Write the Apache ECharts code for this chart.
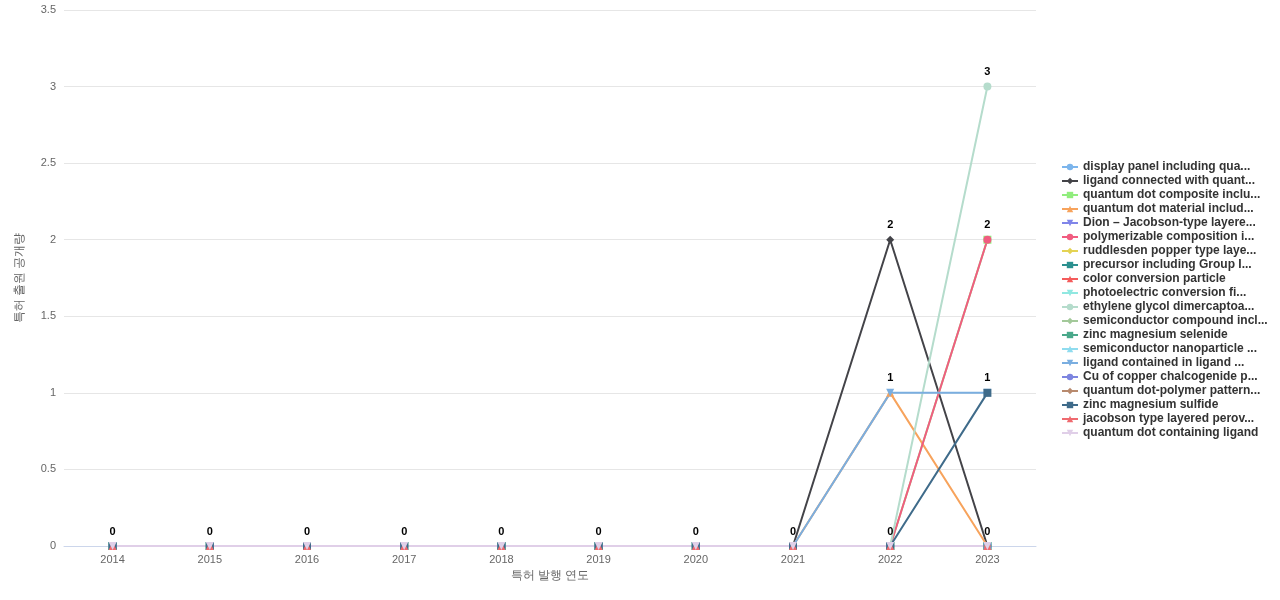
<!DOCTYPE html>
<html><head><meta charset="utf-8"><script src="https://cdn.jsdelivr.net/npm/echarts@6/dist/echarts.min.js"></script></head>
<body style="margin:0"><div id="c" style="width:1280px;height:600px"></div>
<script>
const years=['2014','2015','2016','2017','2018','2019','2020','2021','2022','2023'];
const names=['display panel including qua...','ligand connected with quant...','quantum dot composite inclu...','quantum dot material includ...','Dion – Jacobson-type layere...','polymerizable composition i...','ruddlesden popper type laye...','precursor including Group I...','color conversion particle','photoelectric conversion fi...','ethylene glycol dimercaptoa...','semiconductor compound incl...','zinc magnesium selenide','semiconductor nanoparticle ...','ligand contained in ligand ...','Cu of copper chalcogenide p...','quantum dot-polymer pattern...','zinc magnesium sulfide','jacobson type layered perov...','quantum dot containing ligand'];
const colors=['#7cb5ec','#434348','#90ed7d','#f7a35c','#8085e9','#f15c80','#e4d354','#2b908f','#f45b5b','#91e8e1','#b5dccc','#a3c99a','#4aa88a','#8fdcef','#7aaee0','#7d85e0','#b88a6e','#3f6b8a','#ef6a6f','#e0cfe8'];
const symbols=['circle','diamond','rect','triangle','path://M0,0L10,0L5,10Z','circle','diamond','rect','triangle','path://M0,0L10,0L5,10Z','circle','diamond','rect','triangle','path://M0,0L10,0L5,10Z','circle','diamond','rect','triangle','path://M0,0L10,0L5,10Z'];
const z=[0,0,0,0,0,0,0,0];
const values=[
 z.concat([0,0]), z.concat([2,0]), z.concat([0,2]), z.concat([1,0]), z.concat([0,0]),
 z.concat([0,2]), z.concat([0,0]), z.concat([0,0]), z.concat([0,0]), z.concat([0,0]),
 z.concat([0,3]), z.concat([0,0]), z.concat([0,0]), z.concat([0,0]), z.concat([1,1]),
 z.concat([0,0]), z.concat([0,0]), z.concat([0,1]), z.concat([0,0]), z.concat([0,0])
];
const chart=echarts.init(document.getElementById('c'));
chart.setOption({
 animation:false,
 grid:{left:64,right:244,top:10,bottom:54},
 legend:{orient:'vertical',left:1056,top:'middle',itemWidth:16,itemHeight:8,itemGap:2,
   textStyle:{fontSize:12,fontWeight:'bold',color:'#333'}},
 xAxis:{type:'category',data:years,name:'특허 발행 연도',nameLocation:'middle',nameGap:24,
   nameTextStyle:{color:'#666',fontSize:12},axisTick:{show:false},axisLine:{lineStyle:{color:'#ccd6eb'}},
   axisLabel:{color:'#666',fontSize:11}},
 yAxis:{type:'value',min:0,max:3.5,interval:0.5,name:'특허 출원 공개량',nameLocation:'middle',nameGap:38,
   nameTextStyle:{color:'#666',fontSize:12},axisLabel:{color:'#666',fontSize:11},
   splitLine:{lineStyle:{color:'#e6e6e6'}}},
 series:names.map((n,i)=>({name:n,type:'line',data:values[i],color:colors[i],symbol:symbols[i],symbolSize:8,
   lineStyle:{width:2},label:{show:true,position:'top',fontWeight:'bold',color:'#000',fontSize:11},labelLayout:{hideOverlap:true}}))
});
</script></body></html>
